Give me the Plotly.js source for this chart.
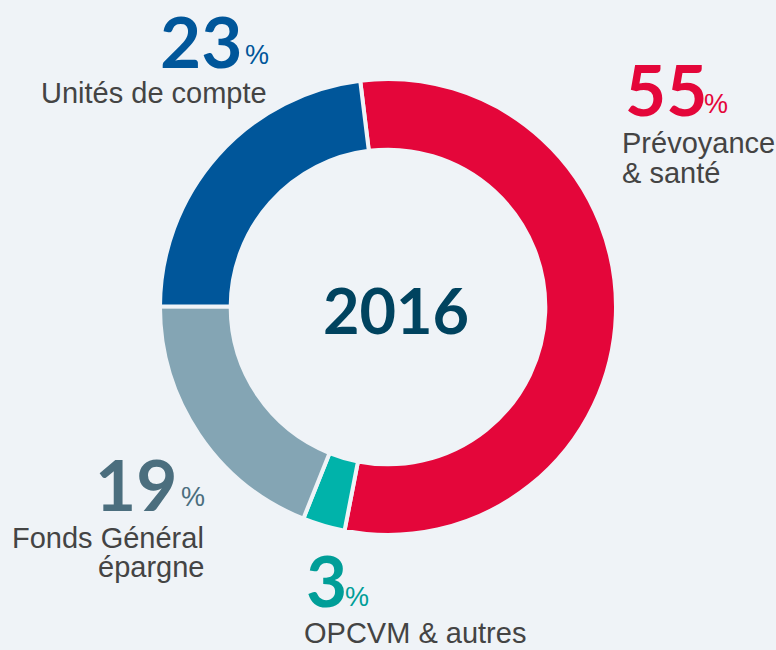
<!DOCTYPE html>
<html>
<head>
<meta charset="utf-8">
<script src="https://cdn.plot.ly/plotly-3.0.1.min.js"></script>
<style>
html,body{margin:0;padding:0;background:#eff3f7;}
#chart{width:776px;height:650px;}
</style>
</head>
<body>
<div id="chart"></div>
<script>
const categories = ["Prévoyance & santé", "OPCVM & autres", "Fonds Général épargne", "Unités de compte"];
const values = [55, 3, 19, 23];
const sliceColors = ["#e4063a", "#00b3aa", "#84a5b4", "#00569a"];
const numberColors = ["#e4063a", "#009e98", "#4b6e7e", "#00569a"];
const labelLines = [["Prévoyance", "& santé"], ["OPCVM & autres"], ["Fonds Général", "épargne"], ["Unités de compte"]];
const centerLabel = "2016";

const W = 776, H = 650, BG = "#eff3f7";
const px = x => x / W;
const py = y => 1 - y / H;

const cx = 388, cy = 307, R = 228;

const trace = {
  type: "pie",
  values: values,
  labels: categories,
  sort: false,
  direction: "clockwise",
  rotation: -7,
  hole: 0.69,
  textinfo: "none",
  hoverinfo: "none",
  showlegend: false,
  marker: {colors: sliceColors, line: {color: BG, width: 4}},
  domain: {x: [px(cx - R), px(cx + R)], y: [py(cy + R), py(cy - R)]}
};

const place = [
  {nx: 623, ny: 88, nanchor: "left", lx: 620, lys: [143, 173], lanchor: "left"},
  {nx: 304, ny: 579, nanchor: "left", lx: 302, lys: [633], lanchor: "left"},
  {nx: 179, ny: 483, nanchor: "right", lx: 206, lys: [538, 567], lanchor: "right"},
  {nx: 244, ny: 41, nanchor: "right", lx: 269, lys: [93], lanchor: "right"}
];
const pctPos = [[702, 104], [343, 597], [179, 497], [243, 55]];

const annotations = [];
values.forEach((v, i) => {
  const p = place[i];
  annotations.push({
    xref: "paper", yref: "paper", x: px(p.nx), y: py(p.ny),
    xanchor: p.nanchor, yanchor: "middle", showarrow: false,
    text: "<b>" + String(v) + "</b>",
    font: {family: "Lato", size: 71, color: numberColors[i]}
  });
  annotations.push({
    xref: "paper", yref: "paper", x: px(pctPos[i][0]), y: py(pctPos[i][1]),
    xanchor: "left", yanchor: "middle", showarrow: false,
    text: "%", font: {family: "Liberation Sans", size: 27, color: numberColors[i]}
  });
  p.lys.forEach((ly, k) => {
    annotations.push({
      xref: "paper", yref: "paper", x: px(p.lx), y: py(ly),
      xanchor: p.lanchor, yanchor: "middle", showarrow: false,
      text: labelLines[i][k],
      font: {family: "Liberation Sans", size: 29, color: "#444444"}
    });
  });
});

annotations.push({
  xref: "paper", yref: "paper", x: px(396), y: py(309),
  xanchor: "center", yanchor: "middle", showarrow: false,
  text: "<b>" + centerLabel + "</b>",
  font: {family: "Lato", size: 63, color: "#00435f"}
});

const layout = {
  width: W, height: H,
  margin: {l: 0, r: 0, t: 0, b: 0},
  paper_bgcolor: BG, plot_bgcolor: BG,
  showlegend: false,
  annotations: annotations
};

Plotly.newPlot("chart", [trace], layout, {displayModeBar: false, staticPlot: true});
</script>
</body>
</html>
